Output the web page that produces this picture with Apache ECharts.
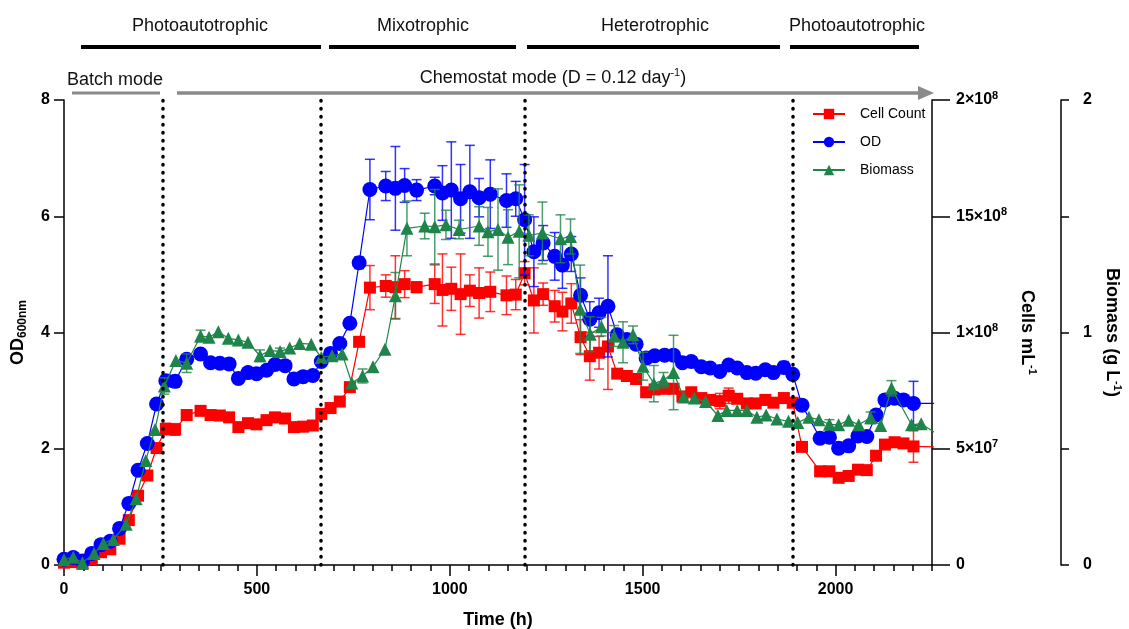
<!DOCTYPE html>
<html><head><meta charset="utf-8">
<script src="https://cdn.jsdelivr.net/npm/echarts@6/dist/echarts.min.js"></script>
<style>html,body{margin:0;padding:0;background:#fff}#c{width:1129px;height:629px}</style>
</head><body><div id="c"></div>
<script>
// ---------- DATA ----------
const sampleTime = [0,24,48,72,96,120,144,168,192,216,240,264,288,
  318,354,380,404,428,452,477,499,525,547,573,596,620,645,667,
  691,715,741,765,
  793,834,859,883,914,961,981,1004,1028,1052,1076,1105,1147,1171,
  1194,1218,1242,1272,1292,1315,1339,1363,1387,1410,
  1434,1459,1483,1509,1531,1557,1580,1603,1626,1652,1675,1700,1723,1745,1770,1793,1818,1839,1866,1889,
  1913,1960,1984,2008,2034,2058,2081,2105,2128,2153,2176,2202,2270];

const odValue = [0.10,0.13,0.07,0.20,0.35,0.41,0.63,1.06,1.63,2.09,2.77,3.17,3.16,
  3.54,3.63,3.48,3.47,3.46,3.21,3.31,3.29,3.35,3.45,3.43,3.20,3.24,3.26,3.50,
  3.64,3.81,4.16,5.20,
  6.46,6.52,6.48,6.53,6.45,6.52,6.40,6.45,6.30,6.42,6.32,6.38,6.27,6.30,
  5.94,5.39,5.54,5.31,5.16,5.35,4.64,4.23,4.34,4.45,
  3.96,3.88,3.80,3.56,3.60,3.61,3.61,3.48,3.50,3.41,3.39,3.33,3.44,3.39,3.31,3.30,3.36,3.31,3.40,3.28,
  2.75,2.18,2.20,2.01,2.05,2.22,2.21,2.58,2.84,2.87,2.84,2.78,2.78];
const odError = [0,0,0,0,0,0,0,0,0,0,0.08,0.10,0.10,
  0,0,0,0,0,0.06,0,0,0,0,0,0,0,0,0,
  0.08,0,0,0.10,
  0.52,0.25,0.72,0.29,0.18,0.15,0.47,0.83,0.59,0.80,0.33,0.59,0.46,0.30,
  0.95,0.60,0.30,0.41,0.40,0.30,0.30,0.30,0.25,0.87,
  0,0,0,0,0,0,0,0,0,0,0,0,0.08,0,0,0,0,0,0.10,0.08,
  0,0,0,0,0,0,0,0,0,0,0,0.38,0];

const cellValue = [0.10e7,0.125e7,0.05e7,0.25e7,0.55e7,0.675e7,1.13e7,1.93e7,2.98e7,3.85e7,5.03e7,5.85e7,5.83e7,
  6.45e7,6.63e7,6.45e7,6.43e7,6.35e7,5.93e7,6.10e7,6.05e7,6.23e7,6.35e7,6.30e7,5.93e7,5.95e7,6.00e7,6.50e7,
  6.75e7,7.03e7,7.65e7,9.60e7,
  11.93e7,12.00e7,11.95e7,12.08e7,11.95e7,12.08e7,11.83e7,11.88e7,11.65e7,11.80e7,11.70e7,11.75e7,11.60e7,11.63e7,
  12.55e7,11.38e7,11.65e7,11.13e7,10.90e7,11.25e7,9.80e7,8.98e7,9.13e7,9.40e7,
  8.23e7,8.13e7,8.00e7,7.43e7,7.55e7,7.58e7,7.58e7,7.25e7,7.43e7,7.18e7,7.10e7,7.05e7,7.28e7,7.15e7,6.95e7,6.95e7,7.10e7,6.98e7,7.18e7,6.98e7,
  5.08e7,4.03e7,4.03e7,3.75e7,3.83e7,4.10e7,4.08e7,4.70e7,5.18e7,5.28e7,5.23e7,5.10e7,5.08e7];
const cellError = [0,0,0,0,0,0,0,0,0,0,0,0.25e7,0.25e7,
  0,0,0,0,0,0,0,0,0,0,0,0,0,0,0,
  0,0,0,0,
  0.95e7,0.48e7,1.35e7,0.58e7,0.23e7,0.83e7,1.55e7,0.93e7,1.73e7,0.68e7,1.08e7,0.85e7,0.83e7,0.65e7,
  0.50e7,1.40e7,0.48e7,0.68e7,0.83e7,0.85e7,0.75e7,1.03e7,0.70e7,1.85e7,
  0,0,0,0,0,0,0,0,0,0,0,0.33e7,0.33e7,0,0,0,0,0,0,0,
  0,0,0,0,0,0,0,0,0,0,0,0.68e7,0];

const biomassTime = [0,24,48,78,102,128,161,187,212,236,
  260,290,318,354,376,400,426,452,477,508,
  534,560,585,611,641,667,695,721,746,774,
  801,832,859,889,935,961,990,1024,1076,1099,
  1125,1151,1180,1205,1240,1287,1313,1338,1364,1393,
  1426,1449,1475,1501,1529,1554,1580,1606,1634,1663,
  1695,1718,1745,1770,1796,1820,1848,1878,1902,1931,
  1957,1984,2008,2034,2060,2091,2117,2145,2197,2222,
  2275];
const biomassValue = [0.023,0.033,0.010,0.050,0.093,0.110,0.175,0.285,0.450,0.583,
  0.770,0.880,0.868,0.985,0.980,1.003,0.975,0.968,0.958,0.900,
  0.923,0.918,0.933,0.953,0.950,0.893,0.900,0.908,0.783,0.813,
  0.853,0.928,1.158,1.448,1.458,1.455,1.463,1.443,1.458,1.433,
  1.443,1.410,1.435,1.418,1.428,1.403,1.413,1.100,0.993,1.025,
  0.985,0.958,0.990,0.855,0.780,0.795,0.828,0.723,0.718,0.703,
  0.643,0.665,0.665,0.665,0.635,0.645,0.628,0.618,0.613,0.635,
  0.625,0.605,0.603,0.623,0.603,0.633,0.600,0.760,0.603,0.608,
  0.550];
const biomassError = [0,0,0,0,0,0,0,0,0,0,
  0.035,0,0.040,0.025,0,0,0,0,0,0.025,
  0,0.015,0,0,0,0,0,0,0,0.030,
  0,0,0.100,0.118,0.055,0.160,0.063,0.040,0.083,0.105,
  0.175,0.118,0.200,0.088,0.133,0.103,0.075,0.190,0.075,0.040,
  0.045,0.088,0.038,0.060,0.078,0.033,0.160,0,0,0,
  0,0,0,0,0,0,0,0,0,0,
  0,0.020,0,0,0,0.025,0,0.033,0,0,
  0];

const phaseBoundaries = [257, 666, 1194, 1889];
const xTicks = [0, 500, 1000, 1500, 2000];
const odTicks = [0, 2, 4, 6, 8];
const cellTickValues = [0, 5e7, 1e8, 1.5e8, 2e8];
const cellTickLabels = ['0', '5×10{s|7}', '1×10{s|8}', '15×10{s|8}', '2×10{s|8}'];
const biomassTickLabels = ['0', '1', '2'];
const phaseLabels = ['Photoautotrophic', 'Mixotrophic', 'Heterotrophic', 'Photoautotrophic'];

// ---------- CHART ----------
const FONT = "'Liberation Sans', Arial, sans-serif";
const RED = '#ff0000', BLUE = '#0000ff', GREEN = '#1e8449';

function pairs(t, v) { return t.map((x, i) => [x, v[i]]); }
function errData(t, v, e) {
  const out = [];
  for (let i = 0; i < t.length; i++) if (e[i] > 0) out.push([t[i], v[i] - e[i], v[i] + e[i]]);
  return out;
}
function errRender(color) {
  return function (params, api) {
    const t = api.value(0), lo = api.value(1), hi = api.value(2);
    const a = api.coord([t, lo]), b = api.coord([t, hi]);
    const w = 5;
    const style = { stroke: color, lineWidth: 1.5, opacity: 0.8 };
    return { type: 'group', children: [
      { type: 'line', shape: { x1: a[0], y1: a[1], x2: b[0], y2: b[1] }, style },
      { type: 'line', shape: { x1: a[0] - w, y1: a[1], x2: a[0] + w, y2: a[1] }, style },
      { type: 'line', shape: { x1: b[0] - w, y1: b[1], x2: b[0] + w, y2: b[1] }, style }
    ] };
  };
}

const axisCommon = {
  axisLine: { show: true, onZero: false, lineStyle: { color: '#000', width: 1.5 } },
  splitLine: { show: false }
};
const labelStyle = { color: '#000', fontFamily: FONT, fontSize: 16, fontWeight: 'bold' };
const supRich = { s: { fontFamily: FONT, fontSize: 11, fontWeight: 'bold', color: '#000', verticalAlign: 'top', lineHeight: 20 } };
const nameRich = {
  b: { fontFamily: FONT, fontSize: 18, fontWeight: 'bold', color: '#000', lineHeight: 22 },
  s: { fontFamily: FONT, fontSize: 11, fontWeight: 'bold', color: '#000', verticalAlign: 'top', lineHeight: 22 },
  d: { fontFamily: FONT, fontSize: 12, fontWeight: 'bold', color: '#000', verticalAlign: 'bottom', lineHeight: 22 }
};

const chart = echarts.init(document.getElementById('c'));
const option = {
  animation: false,
  backgroundColor: '#fff',
  grid: { left: 64, right: 197, top: 100, bottom: 64, containLabel: false, outerBoundsMode: 'none' },
  legend: {
    orient: 'vertical', left: 807, top: 102, itemWidth: 32, itemHeight: 13, itemGap: 14,
    data: ['Cell Count', 'OD', 'Biomass'],
    textStyle: { fontFamily: FONT, fontSize: 14, color: '#000', padding: [0, 0, 0, 10] }
  },
  xAxis: [
    Object.assign({}, axisCommon, {
      type: 'value', min: 0, max: 2250, interval: 50,
      axisTick: { show: true, length: 6, lineStyle: { color: '#000', width: 1.5 } },
      axisLabel: Object.assign({}, labelStyle, { margin: 17, formatter: v => xTicks.includes(v) ? String(v) : '' }),
      name: 'Time (h)', nameLocation: 'middle', nameGap: 46,
      nameTextStyle: { fontFamily: FONT, fontSize: 18, fontWeight: 'bold', color: '#000' }
    }),
    {
      type: 'value', min: 0, max: 2250, interval: 500, position: 'bottom', offset: 0,
      axisLine: { show: false, onZero: false }, splitLine: { show: false },
      axisTick: { show: true, length: 11, customValues: xTicks, lineStyle: { color: '#000', width: 1.5 } },
      axisLabel: { show: false }
    }
  ],
  yAxis: [
    Object.assign({}, axisCommon, {
      type: 'value', min: 0, max: 8, interval: 2, position: 'left',
      axisTick: { show: true, length: 10, lineStyle: { color: '#000', width: 1.5 } },
      axisLabel: Object.assign({}, labelStyle, { margin: 14, formatter: v => odTicks.includes(v) ? String(v) : '' }),
      name: '{b|OD}{d|600nm}', nameLocation: 'middle', nameRotate: 90, nameGap: 35,
      nameTextStyle: { rich: nameRich }
    }),
    Object.assign({}, axisCommon, {
      type: 'value', min: 0, max: 2e8, interval: 5e7, position: 'right', offset: 0,
      axisTick: { show: true, length: 18, lineStyle: { color: '#000', width: 1.5 } },
      axisLabel: Object.assign({}, labelStyle, {
        margin: 24, align: 'left',
        formatter: v => { const i = cellTickValues.indexOf(v); return i >= 0 ? cellTickLabels[i] : ''; },
        rich: supRich
      }),
      name: '{b|Cells mL}{s|-1}', nameLocation: 'middle', nameRotate: -90, nameGap: 84,
      nameTextStyle: { rich: nameRich }
    }),
    Object.assign({}, axisCommon, {
      type: 'value', min: 0, max: 2, interval: 0.5, position: 'right', offset: 129,
      axisTick: { show: true, length: 8, lineStyle: { color: '#000', width: 1.5 } },
      axisLabel: Object.assign({}, labelStyle, {
        margin: 22, align: 'left',
        formatter: v => biomassTickLabels.includes(String(v)) ? String(v) : ''
      }),
      name: '{b|Biomass (g L}{s|-1}{b|)}', nameLocation: 'middle', nameRotate: -90, nameGap: 39,
      nameTextStyle: { rich: nameRich }
    })
  ],
  series: [
    {
      name: 'Cell Count', type: 'line', xAxisIndex: 0, yAxisIndex: 1, z: 2,
      data: pairs(sampleTime, cellValue), symbol: 'rect', symbolSize: 12,
      itemStyle: { color: RED }, lineStyle: { color: RED, width: 1.2 }
    },
    {
      type: 'custom', xAxisIndex: 0, yAxisIndex: 1, z: 2, silent: true,
      renderItem: errRender(RED), encode: { x: 0, y: [1, 2] },
      data: errData(sampleTime, cellValue, cellError)
    },
    {
      name: 'OD', type: 'line', xAxisIndex: 0, yAxisIndex: 0, z: 3,
      data: pairs(sampleTime, odValue), symbol: 'circle', symbolSize: 15,
      itemStyle: { color: BLUE }, lineStyle: { color: BLUE, width: 1.2 },
      markLine: {
        silent: true, symbol: ['none', 'none'], label: { show: false },
        lineStyle: { color: '#000', width: 3.5, type: [0.5, 7.5], cap: 'round' },
        data: phaseBoundaries.map(t => ({ xAxis: t }))
      }
    },
    {
      type: 'custom', xAxisIndex: 0, yAxisIndex: 0, z: 3, silent: true,
      renderItem: errRender(BLUE), encode: { x: 0, y: [1, 2] },
      data: errData(sampleTime, odValue, odError)
    },
    {
      name: 'Biomass', type: 'line', xAxisIndex: 0, yAxisIndex: 2, z: 4,
      data: pairs(biomassTime, biomassValue), symbol: 'triangle', symbolSize: 13,
      itemStyle: { color: GREEN }, lineStyle: { color: GREEN, width: 1.2 }
    },
    {
      type: 'custom', xAxisIndex: 0, yAxisIndex: 2, z: 4, silent: true,
      renderItem: errRender(GREEN), encode: { x: 0, y: [1, 2] },
      data: errData(biomassTime, biomassValue, biomassError)
    }
  ],
  graphic: [
    { type: 'text', x: 200, y: 26, style: { text: phaseLabels[0], font: '18px ' + FONT, fill: '#111', align: 'center', verticalAlign: 'middle' } },
    { type: 'text', x: 423, y: 26, style: { text: phaseLabels[1], font: '18px ' + FONT, fill: '#111', align: 'center', verticalAlign: 'middle' } },
    { type: 'text', x: 655, y: 26, style: { text: phaseLabels[2], font: '18px ' + FONT, fill: '#111', align: 'center', verticalAlign: 'middle' } },
    { type: 'text', x: 857, y: 26, style: { text: phaseLabels[3], font: '18px ' + FONT, fill: '#111', align: 'center', verticalAlign: 'middle' } },
    { type: 'line', shape: { x1: 81, y1: 47, x2: 321, y2: 47 }, style: { stroke: '#000', lineWidth: 4 } },
    { type: 'line', shape: { x1: 329, y1: 47, x2: 516, y2: 47 }, style: { stroke: '#000', lineWidth: 4 } },
    { type: 'line', shape: { x1: 527, y1: 47, x2: 780, y2: 47 }, style: { stroke: '#000', lineWidth: 4 } },
    { type: 'line', shape: { x1: 790, y1: 47, x2: 919, y2: 47 }, style: { stroke: '#000', lineWidth: 4 } },
    { type: 'text', x: 115, y: 80, style: { text: 'Batch mode', font: '18px ' + FONT, fill: '#111', align: 'center', verticalAlign: 'middle' } },
    { type: 'line', shape: { x1: 72, y1: 93, x2: 160, y2: 93 }, style: { stroke: '#8a8a8a', lineWidth: 3 } },
    { type: 'text', x: 553, y: 78, style: {
        text: '{n|Chemostat mode (D = 0.12 day}{s|-1}{n|)}', align: 'center', verticalAlign: 'middle',
        rich: {
          n: { fontFamily: FONT, fontSize: 18, fill: '#111', color: '#111', lineHeight: 22 },
          s: { fontFamily: FONT, fontSize: 11, fill: '#111', color: '#111', verticalAlign: 'top', lineHeight: 22 }
        } } },
    { type: 'line', shape: { x1: 177, y1: 93, x2: 920, y2: 93 }, style: { stroke: '#8a8a8a', lineWidth: 3.5 } },
    { type: 'polygon', shape: { points: [[918, 86], [934, 93], [918, 100]] }, style: { fill: '#8a8a8a' } }
  ]
};
chart.setOption(option);
</script>
</body></html>
